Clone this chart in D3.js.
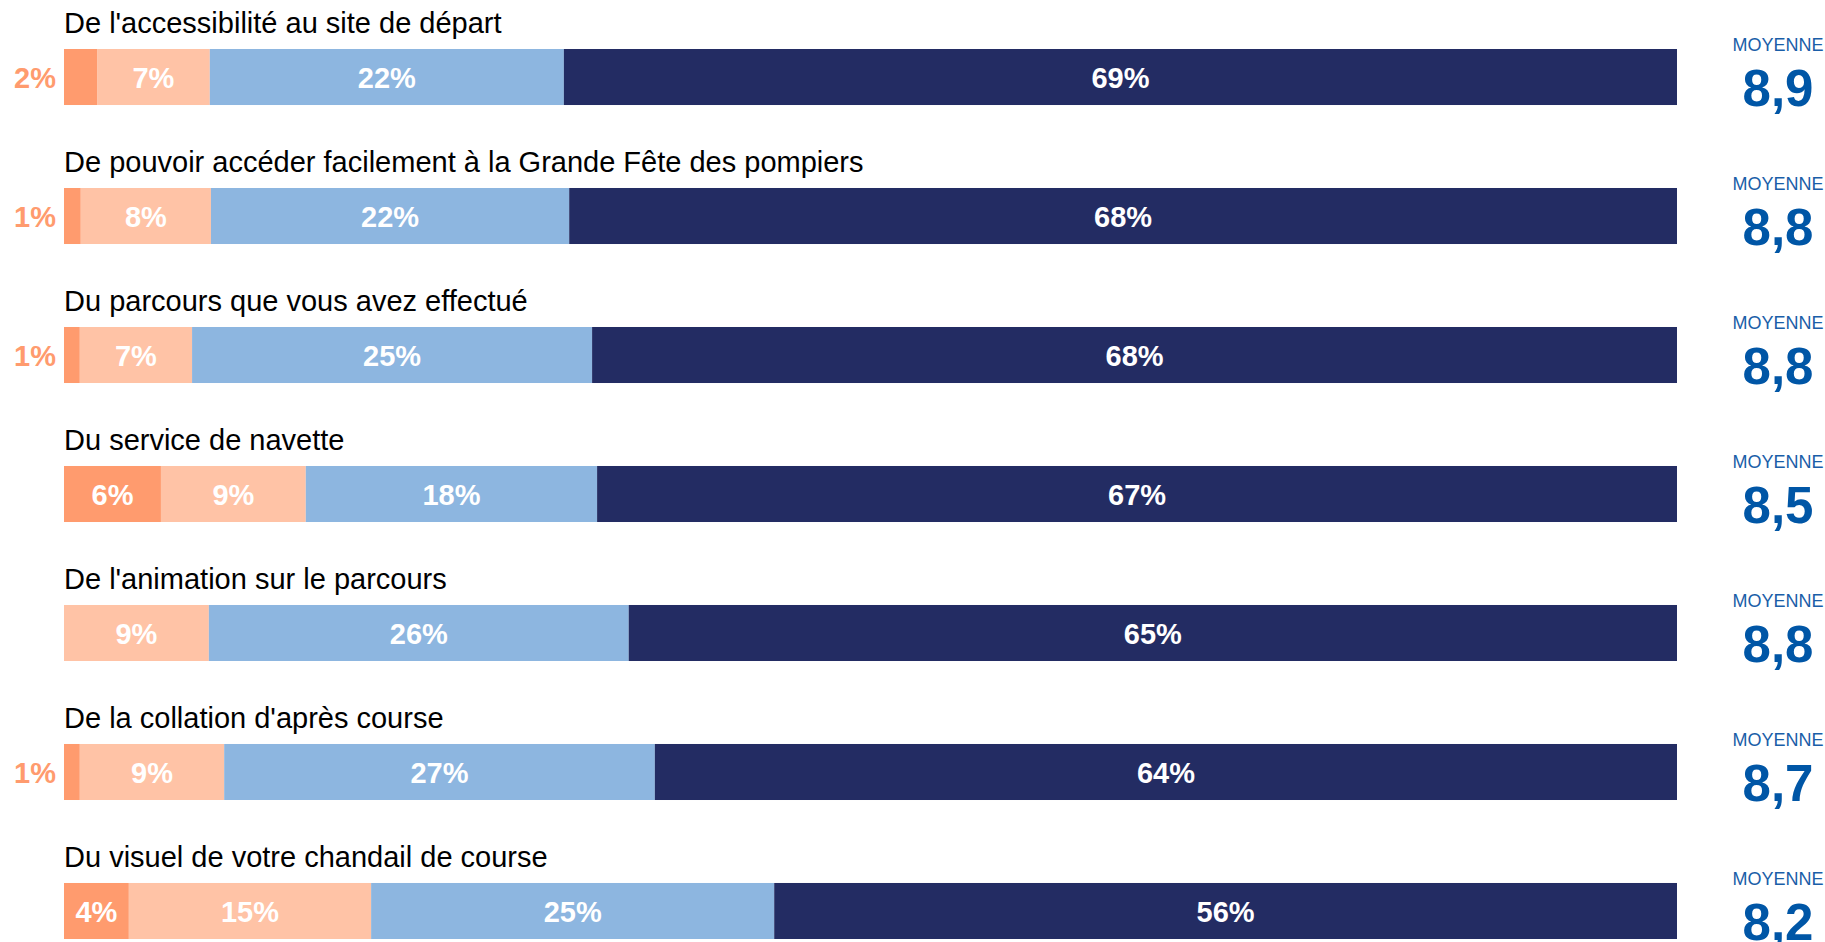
<!DOCTYPE html>
<html>
<head>
<meta charset="utf-8">
<script src="https://cdn.jsdelivr.net/npm/d3@7"></script>
<style>
  body { margin: 0; background: #fff; }
  svg { display: block; font-family: "Liberation Sans", Arial, sans-serif; }
</style>
</head>
<body>
<svg class="chart"></svg>
<script>
'use strict';

// Questions (one bar each)
var categories = [
  "De l'accessibilité au site de départ",
  "De pouvoir accéder facilement à la Grande Fête des pompiers",
  "Du parcours que vous avez effectué",
  "Du service de navette",
  "De l'animation sur le parcours",
  "De la collation d'après course",
  "Du visuel de votre chandail de course"
];

// Segment widths (percent)
var shareVeryLow = [2.05, 1.04, 0.98, 6.01, 0, 0.98, 4.02];
var shareLow = [6.99, 8.07, 6.96, 8.98, 8.98, 8.95, 15.02];
var shareHigh = [21.95, 22.21, 24.8, 18.06, 26.03, 26.7, 24.99];
var shareVeryHigh = [69.01, 68.68, 67.26, 66.95, 64.99, 63.37, 55.97];

// Percent labels printed on the bars
var shownVeryLow = [2, 1, 1, 6, 0, 1, 4];
var shownLow = [7, 8, 7, 9, 9, 9, 15];
var shownHigh = [22, 22, 25, 18, 26, 27, 25];
var shownVeryHigh = [69, 68, 68, 67, 65, 64, 56];

// Average score per question
var means = [8.9, 8.8, 8.8, 8.5, 8.8, 8.7, 8.2];

var keys = ['veryLow', 'low', 'high', 'veryHigh'];
var colors = ['#ff9b6e', '#ffc3a6', '#8db6e0', '#232c63'];

var width = 1825;
var height = 942;

var svg = d3.select('.chart')
  .attr('width', width)
  .attr('height', height);

//Build table for d3.stack
var table = categories.map(function (c, i) {
  return {
    name: c,
    veryLow: shareVeryLow[i], low: shareLow[i], high: shareHigh[i], veryHigh: shareVeryHigh[i],
    shown: [shownVeryLow[i], shownLow[i], shownHigh[i], shownVeryHigh[i]],
    mean: means[i]
  };
});

var x = d3.scaleLinear().domain([0, 100]).range([64, 1677]);

var y = d3.scaleBand()
  .domain(categories)
  .range([49, 939])
  .paddingInner(0.597)
  .paddingOuter(0);

var color = d3.scaleOrdinal().domain(keys).range(colors);

var series = d3.stack().keys(keys)(table);

//Question titles
svg.selectAll('.title')
  .data(table)
  .enter().append('text')
  .attr('class', 'title')
  .attr('x', x(0))
  .attr('y', function (d) { return y(d.name) - 16; })
  .attr('font-size', 29)
  .attr('fill', '#000')
  .text(function (d) { return d.name; });

//Bar segments
var layer = svg.selectAll('.layer')
  .data(series)
  .enter().append('g')
  .attr('class', 'layer')
  .attr('fill', function (s) { return color(s.key); });

layer.selectAll('rect')
  .data(function (s) { return s; })
  .enter().append('rect')
  .attr('x', function (d) { return x(d[0]); })
  .attr('y', function (d) { return y(d.data.name); })
  .attr('width', function (d) { return x(d[1]) - x(d[0]); })
  .attr('height', y.bandwidth());

//Percent labels (small segments get their label outside, to the left)
series.forEach(function (s, k) {
  svg.append('g').selectAll('text')
    .data(s.filter(function (d) { return d.data.shown[k] > 0; }))
    .enter().append('text')
    .attr('x', function (d) {
      var w = x(d[1]) - x(d[0]);
      return w < 45 ? x(0) - 8 : (x(d[0]) + x(d[1])) / 2;
    })
    .attr('y', function (d) { return y(d.data.name) + y.bandwidth() / 2 + 11; })
    .attr('text-anchor', function (d) {
      return x(d[1]) - x(d[0]) < 45 ? 'end' : 'middle';
    })
    .attr('font-size', 29)
    .attr('font-weight', 'bold')
    .attr('fill', function (d) {
      return x(d[1]) - x(d[0]) < 45 ? colors[0] : '#fff';
    })
    .text(function (d) { return d.data.shown[k] + '%'; });
});

//Average on the right
var fr = d3.formatLocale({ decimal: ',', thousands: ' ', grouping: [3], currency: ['', ' €'] });
var fmt = fr.format('.1f');

var avg = svg.selectAll('.avg')
  .data(table)
  .enter().append('g')
  .attr('class', 'avg')
  .attr('transform', function (d) { return 'translate(1778,' + y(d.name) + ')'; });

avg.append('text')
  .attr('y', 2)
  .attr('text-anchor', 'middle')
  .attr('font-size', 18)
  .attr('fill', '#1a5ea8')
  .text('MOYENNE');

avg.append('text')
  .attr('y', 57)
  .attr('text-anchor', 'middle')
  .attr('font-size', 51)
  .attr('font-weight', 'bold')
  .attr('fill', '#0056a6')
  .text(function (d) { return fmt(d.mean); });
</script>
</body>
</html>
